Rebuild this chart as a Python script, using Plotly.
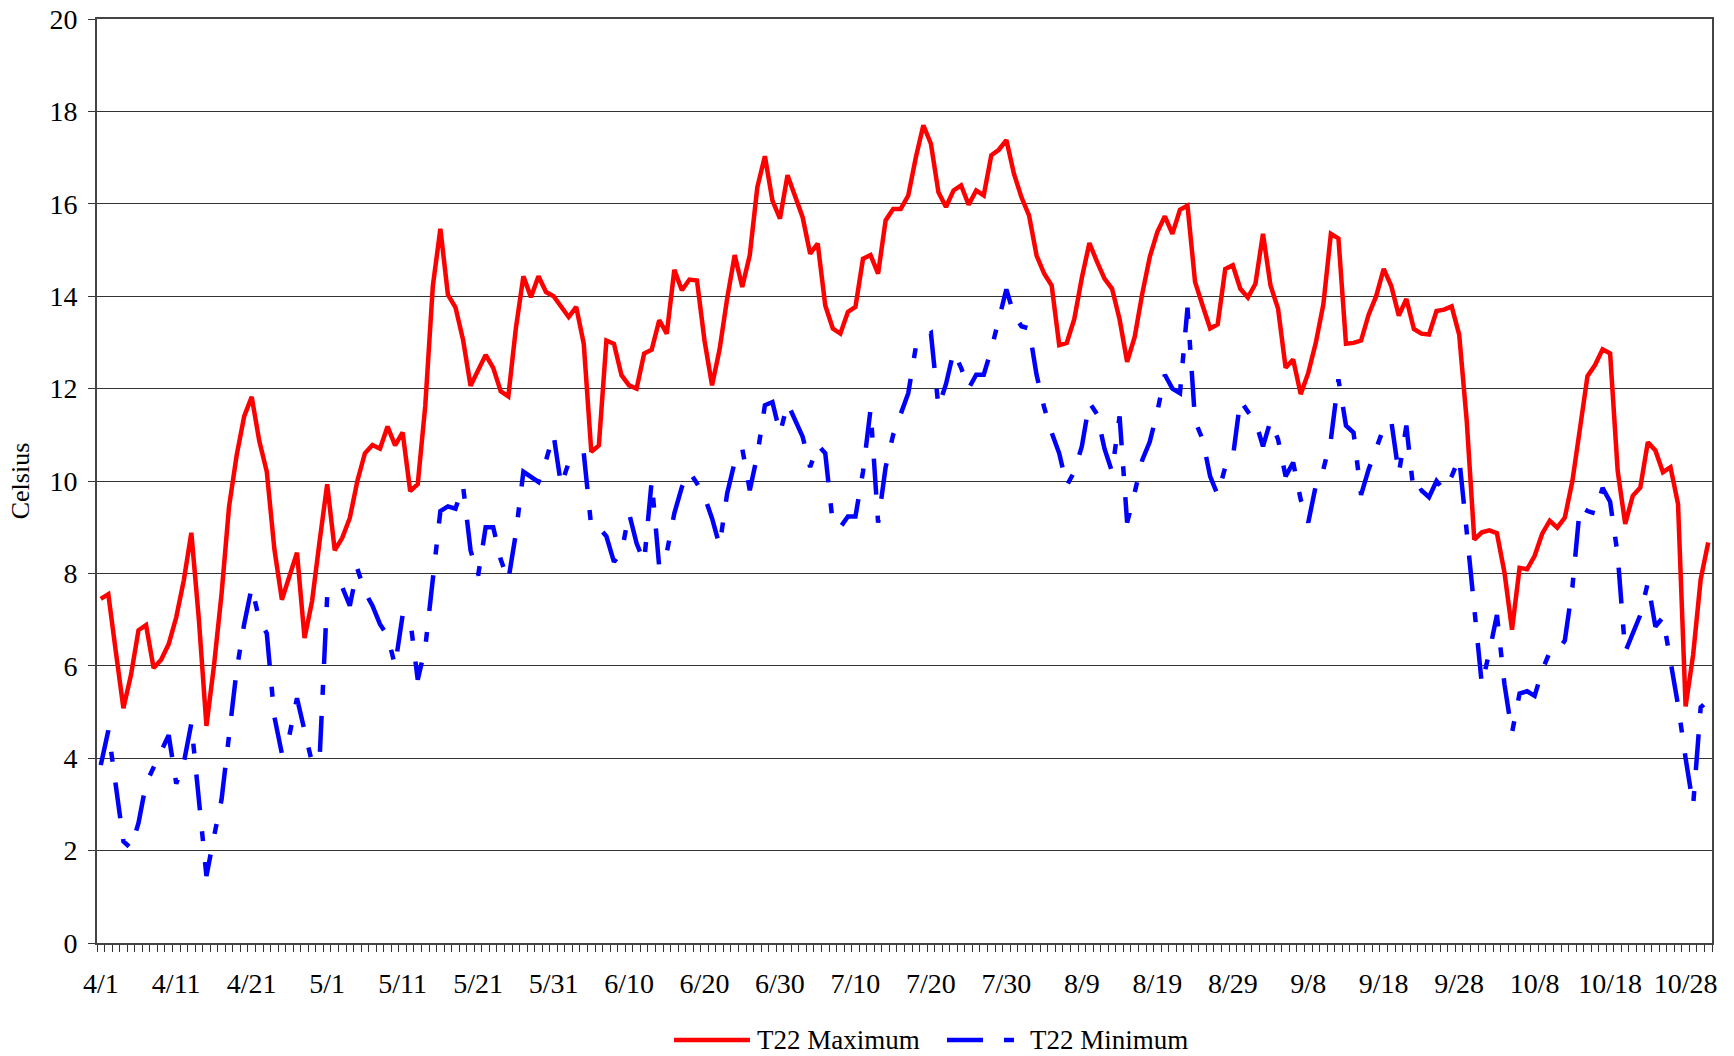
import plotly.graph_objects as go

# ---- data -------------------------------------------------------------
TICK_LABELS = ["4/1", "4/11", "4/21", "5/1", "5/11", "5/21", "5/31", "6/10",
               "6/20", "6/30", "7/10", "7/20", "7/30", "8/9", "8/19", "8/29",
               "9/8", "9/18", "9/28", "10/8", "10/18", "10/28"]

T22_MAX = [
    7.45, 7.55, 6.3, 5.08, 5.8, 6.77, 6.88, 5.95, 6.13, 6.47,
    7.05, 7.85, 8.88, 7.0, 4.7, 6.0, 7.55, 9.45, 10.55, 11.4,
    11.82, 10.87, 10.2, 8.53, 7.43, 7.95, 8.45, 6.6, 7.4, 8.7,
    9.93, 8.5, 8.77, 9.2, 10.0, 10.6, 10.78, 10.7, 11.18, 10.77,
    11.05, 9.78, 9.93, 11.63, 14.22, 15.46, 14.03, 13.76, 13.06, 12.06,
    12.4, 12.73, 12.45, 11.94, 11.83, 13.3, 14.43, 13.98, 14.43, 14.09,
    14.0, 13.77, 13.55, 13.77, 12.97, 10.63, 10.77, 13.04, 12.97, 12.29,
    12.07, 12.0, 12.76, 12.84, 13.48, 13.19, 14.57, 14.13, 14.36, 14.34,
    13.04, 12.07, 12.85, 13.95, 14.89, 14.2, 14.89, 16.36, 17.03, 16.07,
    15.68, 16.62, 16.18, 15.71, 14.92, 15.14, 13.8, 13.3, 13.19, 13.66,
    13.77, 14.81, 14.89, 14.49, 15.64, 15.89, 15.89, 16.18, 17.0, 17.7,
    17.3, 16.25, 15.93, 16.29, 16.4, 15.98, 16.29, 16.18, 17.05, 17.17,
    17.38, 16.65, 16.14, 15.75, 14.88, 14.49, 14.23, 12.94, 12.99, 13.51,
    14.4, 15.15, 14.75, 14.38, 14.16, 13.5, 12.58, 13.12, 14.05, 14.85,
    15.39, 15.73, 15.35, 15.87, 15.96, 14.31, 13.8, 13.3, 13.39, 14.59,
    14.67, 14.16, 13.97, 14.27, 15.35, 14.23, 13.73, 12.45, 12.63, 11.88,
    12.34, 12.99, 13.82, 15.35, 15.25, 12.97, 12.99, 13.04, 13.6, 14.0,
    14.59, 14.22, 13.58, 13.94, 13.29, 13.19, 13.17, 13.68, 13.71, 13.78,
    13.17, 11.3, 8.73, 8.89, 8.93, 8.87, 8.02, 6.78, 8.12, 8.09,
    8.38, 8.86, 9.14, 8.99, 9.21, 10.0, 11.13, 12.27, 12.51, 12.85,
    12.76, 10.22, 9.07, 9.68, 9.86, 10.84, 10.66, 10.19, 10.3, 9.5,
    5.12, 6.24, 7.87, 8.67,
]

T22_MIN = [
    3.85, 4.6, 3.4, 2.2, 2.05, 2.6, 3.45, 3.8, 4.1, 4.5,
    3.45, 3.9, 4.75, 3.2, 1.45, 2.3, 3.1, 4.5, 5.9, 6.9,
    7.7, 7.0, 6.7, 4.9, 4.1, 4.5, 5.3, 4.6, 3.9, 4.0,
    7.5, 7.5, 7.7, 7.3, 8.1, 7.6, 7.3, 6.9, 6.65, 6.0,
    7.1, 7.0, 5.7, 6.4, 7.9, 9.35, 9.45, 9.4, 9.9, 8.5,
    7.95, 9.0, 9.0, 8.3, 7.85, 8.86, 10.2, 10.1, 9.98, 10.45,
    11.0, 9.9, 10.4, 10.5, 10.6, 9.0, 9.0, 8.8, 8.25, 8.45,
    9.3, 8.65, 8.25, 10.0, 8.14, 8.45, 9.3, 9.87, 10.2, 9.95,
    9.66, 9.19, 8.6, 9.73, 10.41, 10.7, 9.8, 10.56, 11.64, 11.71,
    11.03, 11.68, 11.32, 10.96, 10.3, 10.78, 10.6, 9.08, 9.0, 9.23,
    9.23, 10.2, 11.55, 9.1, 10.3, 11.0, 11.45, 11.9, 12.9, 13.1,
    13.2, 11.6, 12.1, 12.8, 12.45, 12.0, 12.3, 12.3, 12.85, 13.55,
    14.15, 13.6, 13.35, 13.3, 12.3, 11.6, 11.05, 10.6, 9.9, 10.2,
    10.75, 11.7, 11.45, 10.7, 10.2, 11.4, 9.1, 9.75, 10.45, 10.85,
    11.5, 12.3, 12.0, 11.9, 13.75, 11.3, 10.9, 10.1, 9.7, 10.3,
    10.5, 11.75, 11.5, 11.3, 10.75, 11.3, 10.9, 10.1, 10.4, 9.6,
    9.1, 9.9, 10.25, 10.9, 12.2, 11.2, 11.05, 9.7, 10.25, 10.7,
    11.15, 11.3, 10.15, 11.2, 9.7, 9.8, 9.65, 10.0, 9.8, 10.1,
    10.5, 8.9, 7.2, 5.6, 6.3, 7.1, 5.6, 4.55, 5.4, 5.45,
    5.35, 5.9, 6.3, 6.3, 6.55, 7.7, 9.45, 9.35, 9.3, 9.85,
    9.55, 8.4, 6.3, 6.7, 7.1, 7.8, 6.85, 7.05, 6.1, 5.15,
    4.0, 2.98, 5.1, 5.25,
]

SERIES_NAMES = ["T22 Maximum", "T22 Minimum"]

# ---- figure -----------------------------------------------------------
FONT = "Liberation Serif"
RED = "#FF0000"
BLUE = "#0000FF"
BLUE_DASH = "36px,21px,10px,21px"

n = len(T22_MAX)
days = list(range(n))
tick_step = 10

fig = go.Figure()
fig.add_trace(go.Scatter(x=days, y=T22_MAX, mode="lines", name=SERIES_NAMES[0],
                         line=dict(color=RED, width=4.5)))
fig.add_trace(go.Scatter(x=days, y=T22_MIN, mode="lines", name=SERIES_NAMES[1],
                         line=dict(color=BLUE, width=4.5, dash=BLUE_DASH)))

L, R, T, B = 97, 22, 19, 113
W, H = 1734, 1056
pw, ph = W - L - R, H - T - B

fig.update_layout(
    width=W, height=H,
    margin=dict(l=L, r=R, t=T, b=B, autoexpand=False),
    paper_bgcolor="white", plot_bgcolor="white",
    font=dict(family=FONT, size=28, color="black"),
    showlegend=False,
)

fig.update_xaxes(
    range=[-0.5, n - 0.5],
    tickmode="array",
    tickvals=[i * tick_step for i in range(len(TICK_LABELS))],
    ticktext=TICK_LABELS,
    ticks="",
    ticklabelstandoff=14,
    showgrid=False, zeroline=False,
    showline=True, linecolor="#444444", linewidth=2, mirror=True,
    minor=dict(tickmode="linear", tick0=-0.5, dtick=1, ticks="outside",
               ticklen=7, tickcolor="#333333", tickwidth=1, showgrid=False),
    tickfont=dict(family=FONT, size=28),
)
fig.update_yaxes(
    range=[0, 20], dtick=2,
    ticks="outside", ticklen=7, tickcolor="#333333",
    ticklabelstandoff=5,
    showgrid=True, gridcolor="#333333", gridwidth=1,
    zeroline=False,
    showline=True, linecolor="#444444", linewidth=2, mirror=True,
    title=dict(text="Celsius", standoff=12, font=dict(family=FONT, size=26)),
    tickfont=dict(family=FONT, size=28),
)

# custom legend below the axis (long line samples as in the original)
def px_x(xp):
    return (xp - L) / pw

def px_y(yp):
    return (H - B - yp) / ph

leg_y = px_y(1040)
legend_items = [
    (SERIES_NAMES[0], RED, "solid", 674, 750, 755),
    (SERIES_NAMES[1], BLUE, BLUE_DASH, 947, 1020, 1028),
]
for name, color, dash, x0, x1, xt in legend_items:
    fig.add_shape(type="line", xref="paper", yref="paper",
                  x0=px_x(x0), x1=px_x(x1), y0=leg_y, y1=leg_y,
                  line=dict(color=color, width=4.5, dash=dash))
    fig.add_annotation(xref="paper", yref="paper", x=px_x(xt), y=leg_y,
                       xanchor="left", yanchor="middle", showarrow=False,
                       text=name, font=dict(family=FONT, size=27, color="black"))

fig.write_html("out.html",
               config={"displayModeBar": False},
               post_script="document.body.style.margin='0';"
                           "document.body.style.overflow='hidden';")
